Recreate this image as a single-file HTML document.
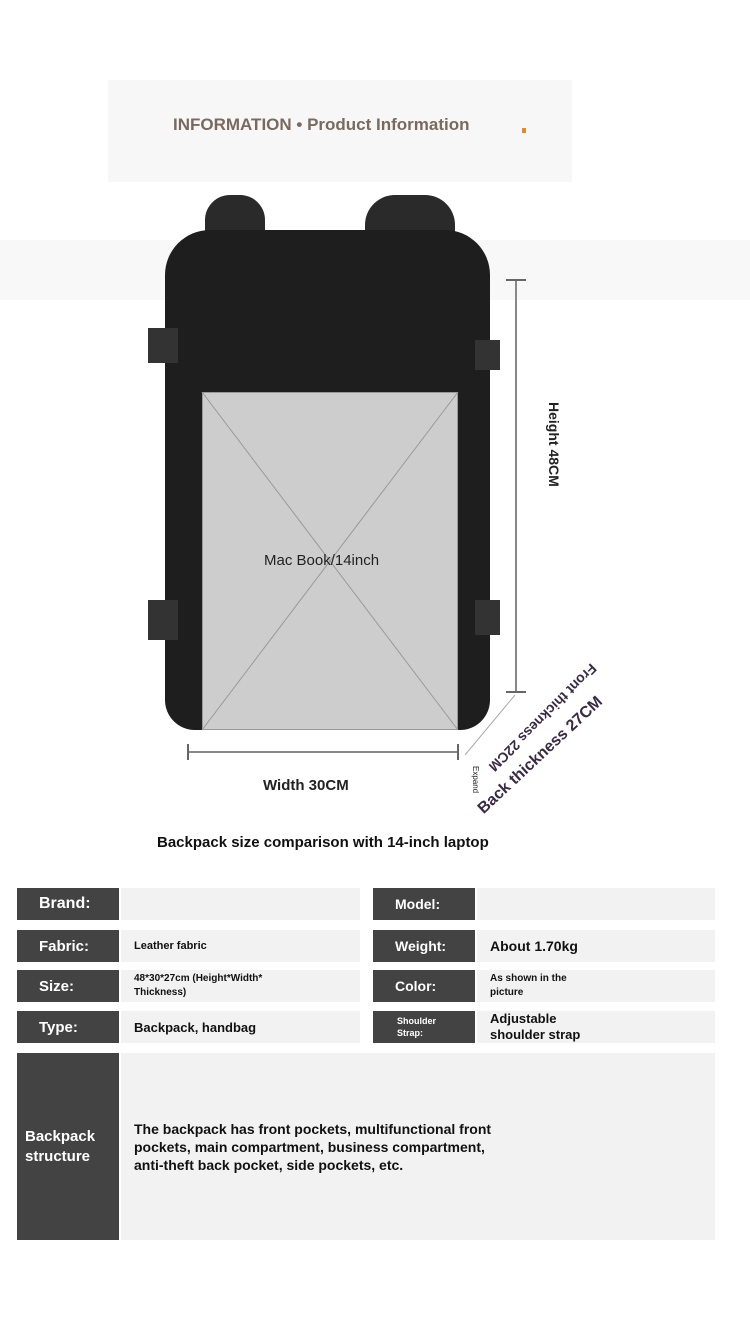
<!DOCTYPE html>
<html><head><style>
body{margin:0;width:750px;height:1326px;background:#fff;position:relative;overflow:hidden;font-family:"Liberation Sans",sans-serif}
.a{position:absolute}
.l{position:absolute;background:#434343;color:#fff;font-weight:bold;display:flex;align-items:center;padding-left:22px;box-sizing:border-box}
.v{position:absolute;background:#f2f2f2;color:#111;font-weight:bold;display:flex;align-items:center;padding-left:13px;box-sizing:border-box}
</style></head><body>
<div class="a" style="left:108px;top:80px;width:464px;height:102px;background:#f7f7f7"></div>
<div class="a" style="left:0;top:240px;width:750px;height:60px;background:#f8f8f8"></div>
<div class="a" style="left:173px;top:115px;font-size:17px;font-weight:bold;color:#7a6a5e">INFORMATION • Product Information</div>
<div class="a" style="left:522px;top:128px;width:4px;height:5px;background:#e08a2a"></div>
<!-- backpack -->
<div class="a" style="left:205px;top:195px;width:60px;height:80px;border-radius:25px 25px 0 0;background:#2a2a2a"></div>
<div class="a" style="left:365px;top:195px;width:90px;height:80px;border-radius:30px 30px 0 0;background:#2a2a2a"></div>
<div class="a" style="left:165px;top:230px;width:325px;height:500px;border-radius:45px 45px 30px 30px;background:#1e1e1e"></div>
<div class="a" style="left:148px;top:328px;width:30px;height:35px;background:#333"></div>
<div class="a" style="left:148px;top:600px;width:30px;height:40px;background:#333"></div>
<div class="a" style="left:475px;top:340px;width:25px;height:30px;background:#333"></div>
<div class="a" style="left:475px;top:600px;width:25px;height:35px;background:#333"></div>
<div class="a" style="left:202px;top:392px;width:256px;height:338px;background:rgba(215,215,215,.95);border:1px solid #999;box-sizing:border-box"></div>
<svg class="a" style="left:0;top:0" width="750" height="900">
<line x1="202" y1="392" x2="458" y2="730" stroke="#999" stroke-width="1"/>
<line x1="458" y1="392" x2="202" y2="730" stroke="#999" stroke-width="1"/>
<line x1="516" y1="280" x2="516" y2="692" stroke="#888" stroke-width="2"/>
<line x1="506" y1="280" x2="526" y2="280" stroke="#666" stroke-width="2"/>
<line x1="506" y1="692" x2="526" y2="692" stroke="#666" stroke-width="2"/>
<line x1="188" y1="752" x2="458" y2="752" stroke="#888" stroke-width="2"/>
<line x1="188" y1="744" x2="188" y2="760" stroke="#666" stroke-width="2"/>
<line x1="458" y1="744" x2="458" y2="760" stroke="#666" stroke-width="2"/>
<line x1="465" y1="755" x2="515" y2="695" stroke="#aaa" stroke-width="1"/>
</svg>
<div class="a" style="left:264px;top:552px;font-size:15px;color:#222">Mac Book/14inch</div>
<div class="a" style="font-size:14px;font-weight:bold;color:#222;transform:rotate(90deg);transform-origin:left top;left:562px;top:402px;white-space:nowrap">Height 48CM</div>
<div class="a" style="left:263px;top:777px;font-size:15px;font-weight:bold;color:#222">Width 30CM</div>
<div class="a" style="left:487px;top:800px;font-size:16px;font-weight:bold;color:#3a2a45;transform:rotate(-43deg);transform-origin:left bottom;white-space:nowrap;line-height:18px">Back thickness 27CM</div>
<div class="a" style="left:600px;top:672px;font-size:14px;font-weight:bold;color:#3a2a45;transform:rotate(135deg);transform-origin:left top;white-space:nowrap">Front thickness 22CM</div>
<div class="a" style="left:469px;top:766px;font-size:8px;color:#222;transform:rotate(90deg);transform-origin:left top;left:480px;white-space:nowrap">Expand</div>
<div class="a" style="left:157px;top:834px;font-size:15px;font-weight:bold;color:#111">Backpack size comparison with 14-inch laptop</div>
<!-- table -->
<div class="l" style="left:17px;top:888px;width:102px;height:32px;font-size:16px">Brand:</div>
<div class="v" style="left:121px;top:888px;width:239px;height:32px"></div>
<div class="l" style="left:373px;top:888px;width:102px;height:32px;font-size:14px">Model:</div>
<div class="v" style="left:477px;top:888px;width:238px;height:32px"></div>
<div class="l" style="left:17px;top:930px;width:102px;height:32px;font-size:15px">Fabric:</div>
<div class="v" style="left:121px;top:930px;width:239px;height:32px;font-size:11px">Leather fabric</div>
<div class="l" style="left:373px;top:930px;width:102px;height:32px;font-size:14px">Weight:</div>
<div class="v" style="left:477px;top:930px;width:238px;height:32px;font-size:14px">About 1.70kg</div>
<div class="l" style="left:17px;top:970px;width:102px;height:32px;font-size:15px">Size:</div>
<div class="v" style="left:121px;top:970px;width:239px;height:32px;font-size:10px;line-height:14px">48*30*27cm (Height*Width*<br>Thickness)</div>
<div class="l" style="left:373px;top:970px;width:102px;height:32px;font-size:14px">Color:</div>
<div class="v" style="left:477px;top:970px;width:238px;height:32px;font-size:10px;line-height:14px">As shown in the<br>picture</div>
<div class="l" style="left:17px;top:1011px;width:102px;height:32px;font-size:15px">Type:</div>
<div class="v" style="left:121px;top:1011px;width:239px;height:32px;font-size:13px">Backpack, handbag</div>
<div class="l" style="left:373px;top:1011px;width:102px;height:32px;font-size:9px;padding-left:24px;line-height:12px">Shoulder<br>Strap:</div>
<div class="v" style="left:477px;top:1011px;width:238px;height:32px;font-size:13px;line-height:16px">Adjustable<br>shoulder strap</div>
<div class="l" style="left:17px;top:1053px;width:102px;height:187px;font-size:15px;padding-left:8px;line-height:20px">Backpack<br>structure</div>
<div class="v" style="left:121px;top:1053px;width:594px;height:187px;font-size:14px;line-height:18px">The backpack has front pockets, multifunctional front<br>pockets, main compartment, business compartment,<br>anti-theft back pocket, side pockets, etc.</div>
</body></html>
